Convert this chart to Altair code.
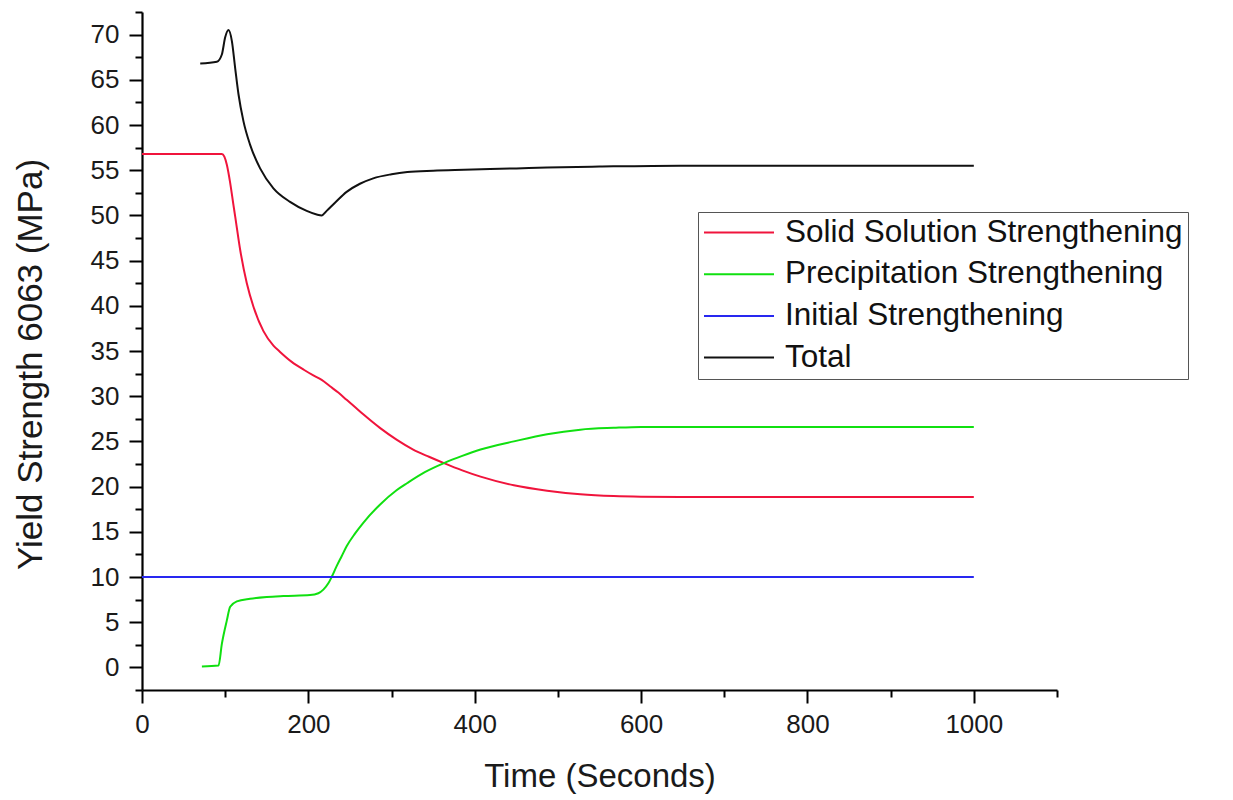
import altair as alt
import pandas as pd

# ---- data ----
series_names = ["Solid Solution Strengthening", "Precipitation Strengthening",
                "Initial Strengthening", "Total"]

t_ss = [0, 96, 99, 102, 106, 110, 112, 118, 126, 134, 146, 158, 166, 180, 195, 206,
        216, 226, 236, 246, 256, 266, 286, 306, 326, 345, 363, 385, 407, 447, 487,
        527, 567, 600, 647, 1000]
v_ss = [56.8, 56.8, 56.5, 55.6, 53.6, 51.1, 49.9, 46.2, 42.5, 39.9, 37.2, 35.6, 34.9,
        33.8, 32.9, 32.3, 31.8, 31.1, 30.4, 29.6, 28.8, 28.0, 26.5, 25.2, 24.1, 23.3,
        22.6, 21.8, 21.1, 20.15, 19.55, 19.15, 18.95, 18.88, 18.85, 18.85]

t_ps = [72, 92, 96, 102, 106, 114, 130, 150, 170, 202, 212, 218, 224, 228, 234, 240,
        246, 256, 266, 286, 306, 319, 340, 363, 385, 407, 447, 487, 527, 567, 600,
        647, 1000]
v_ps = [0.1, 0.2, 2.6, 5.2, 6.7, 7.3, 7.6, 7.8, 7.9, 8.0, 8.2, 8.6, 9.3, 10.0, 11.2,
        12.3, 13.4, 14.8, 16.0, 18.0, 19.6, 20.4, 21.6, 22.6, 23.4, 24.1, 25.0, 25.8,
        26.3, 26.5, 26.6, 26.6, 26.6]

t_init = [0, 1000]
v_init = [10.0, 10.0]

t_tot = [70, 90, 96, 100, 104, 108, 112, 116, 122, 130, 142, 158, 178, 198, 210,
         216, 222, 232, 246, 262, 278, 300, 319, 350, 387, 450, 487, 550, 647, 800, 1000]
v_tot = [66.8, 67.0, 67.8, 69.7, 70.5, 69.3, 66.3, 63.4, 60.4, 57.8, 55.2, 53.0, 51.5,
         50.5, 50.1, 50.0, 50.5, 51.4, 52.6, 53.5, 54.1, 54.55, 54.8, 54.95, 55.05, 55.2,
         55.3, 55.4, 55.5, 55.5, 55.5]

y_major = [0, 5, 10, 15, 20, 25, 30, 35, 40, 45, 50, 55, 60, 65, 70]
y_minor = [-2.5, 2.5, 7.5, 12.5, 17.5, 22.5, 27.5, 32.5, 37.5, 42.5, 47.5, 52.5,
           57.5, 62.5, 67.5, 72.5]
x_major = [0, 200, 400, 600, 800, 1000]
x_minor = [100, 300, 500, 700, 900, 1100]

colors = ["#f0143c", "#10e010", "#2828f0", "#111111"]

# ---- build table ----
frames = []
for name, ts, vs in zip(series_names, [t_ss, t_ps, t_init, t_tot],
                        [v_ss, v_ps, v_init, v_tot]):
    frames.append(pd.DataFrame({"t": ts, "v": vs, "series": name}))
df = pd.concat(frames, ignore_index=True)

FONT = "Liberation Sans"
xscale = alt.Scale(domain=[0, 1100], nice=False, zero=False)
yscale = alt.Scale(domain=[-2.5, 72.5], nice=False, zero=False)

main = alt.Chart(df).mark_line(strokeWidth=2, interpolate="monotone").encode(
    x=alt.X("t:Q", scale=xscale,
            axis=alt.Axis(values=x_major, tickSize=13, labelFontSize=26,
                          labelPadding=8, labelFlush=False,
                          title="Time (Seconds)", titleFontSize=33,
                          titleFontWeight="normal", titleY=96,
                          titleBaseline="alphabetic", format="d")),
    y=alt.Y("v:Q", scale=yscale,
            axis=alt.Axis(values=y_major, tickSize=13, labelFontSize=26,
                          labelPadding=10, labelFlush=False,
                          title="Yield Strength 6063 (MPa)",
                          titleFontSize=35, titleFontWeight="normal", titleX=-112,
                          titleY=352, titleBaseline="middle", titleAngle=-90,
                          titleAlign="center", format="d")),
    color=alt.Color("series:N",
                    scale=alt.Scale(domain=series_names, range=colors),
                    sort=series_names,
                    legend=alt.Legend(title=None, orient="none", legendX=556,
                                      legendY=200, symbolType="stroke",
                                      symbolSize=4900, symbolStrokeWidth=2,
                                      labelFontSize=31.5, labelOffset=10,
                                      labelLimit=0,
                                      labelFont=FONT, labelColor="#111",
                                      clipHeight=31, rowPadding=9.7, padding=5,
                                      strokeColor="#555", fillColor="white",
                                      cornerRadius=0)),
)

minor = alt.Chart(df).mark_line(strokeOpacity=0).encode(
    x=alt.X("t:Q", scale=xscale,
            axis=alt.Axis(values=x_minor, tickSize=7, labels=False, title=None,
                          domain=False, orient="bottom")),
    y=alt.Y("v:Q", scale=yscale,
            axis=alt.Axis(values=y_minor, tickSize=7, labels=False, title=None,
                          domain=False, orient="left")),
)

chart = alt.layer(main, minor).resolve_axis(x="independent", y="independent").properties(
    width=915, height=678,
    autosize=alt.AutoSizeParams(type="none"),
    padding={"left": 142, "top": 12, "right": 176, "bottom": 110},
    background="white",
).configure_view(stroke=None).configure_axis(
    grid=False, domainColor="black", domainWidth=2.2, tickColor="black",
    tickWidth=2, labelFont=FONT, titleFont=FONT, labelColor="#1a1a1a",
    titleColor="#1a1a1a",
)

chart.save("out.html", embed_options={"renderer": "svg", "actions": False})
